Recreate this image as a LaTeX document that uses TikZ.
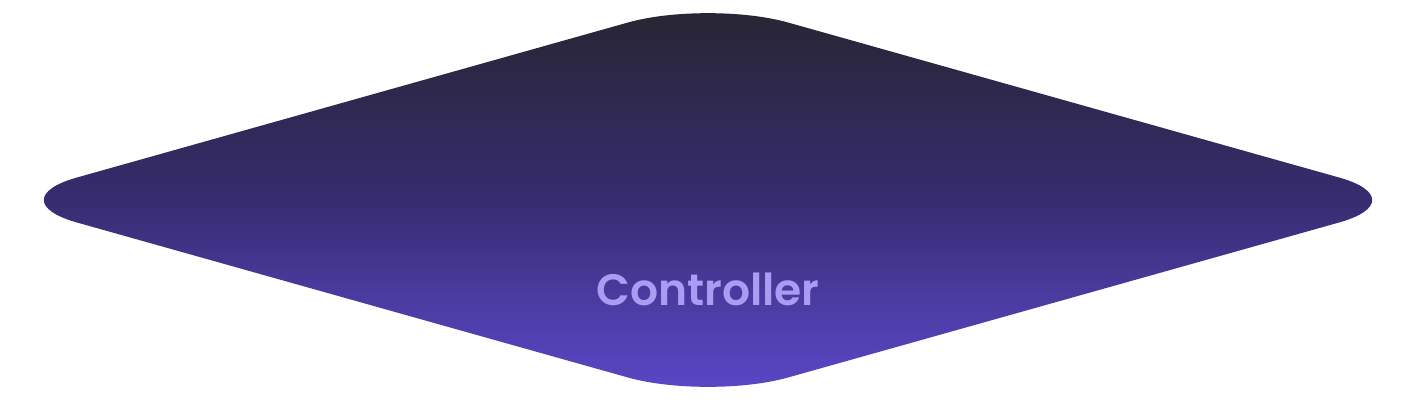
\documentclass[tikz,border=0pt]{standalone}
\usepackage{fontspec}
\setmainfont{Poppins}[BoldFont={Poppins SemiBold}]
\usetikzlibrary{calc}

\definecolor{ctrltop}{HTML}{27252F}
\definecolor{ctrlmid}{HTML}{372C70}
\definecolor{ctrllow}{HTML}{4A3BA0}
\definecolor{ctrlbot}{HTML}{5B48CA}
\definecolor{ctrltext}{HTML}{A99CF2}

\pgfdeclareverticalshading{ctrlshade}{100bp}{
  color(0bp)=(ctrlbot); color(25bp)=(ctrlbot);
  color(38bp)=(ctrllow); color(50bp)=(ctrlmid);
  color(75bp)=(ctrltop); color(100bp)=(ctrltop)}

\begin{document}
\begin{tikzpicture}
  [
    x=1pt, y=-1pt,
    plate/.style =
      {shading=ctrlshade, rounded corners=83pt},
    label/.style =
      {text=ctrltext, font=\fontsize{44}{44}\selectfont\bfseries, anchor=base}
  ]
  \useasboundingbox (0, 0) rectangle (1416, 400);

  \coordinate (w) at (-3, 200);
  \coordinate (n) at (708, 0);
  \coordinate (e) at (1419, 200);
  \coordinate (s) at (708, 400);

  \shade [plate] ($(w)!0.5!(n)$) -- (n) -- (e) -- (s) -- (w) -- cycle;

  \node [label] at (708, 305) (ctrl) {Controller};

\end{tikzpicture}
\end{document}
